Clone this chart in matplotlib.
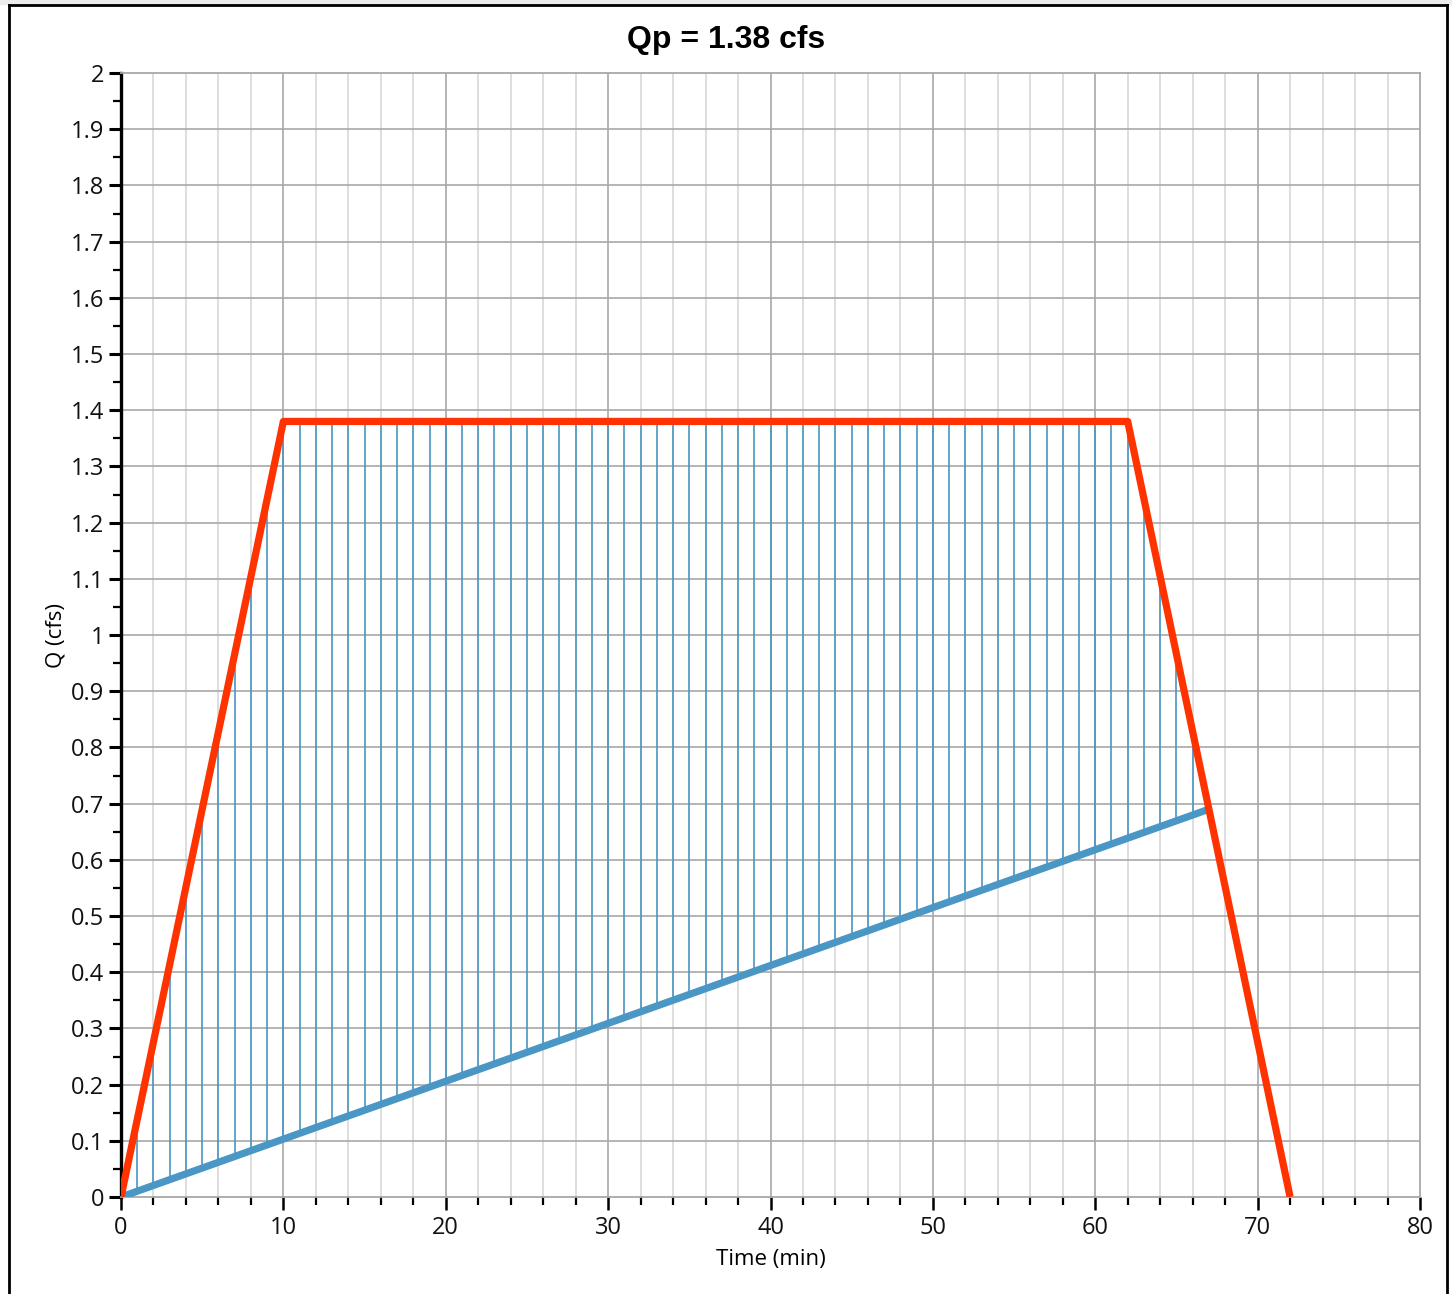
import numpy as np
import matplotlib.pyplot as plt
from matplotlib.lines import Line2D
from matplotlib.patches import Rectangle
from matplotlib.ticker import MultipleLocator, FuncFormatter

# hydrograph (min, cfs)
hydro_t = [0, 10, 62, 72]
hydro_q = [0, 1.38, 1.38, 0]

# baseflow line under the runoff
base_t = [0, 67]
base_q = [0, 0.69]

# storage hatch drawn at every whole minute
hatch_t = np.arange(1, 67)

title = "Qp = 1.38 cfs"

RED = "#ff3300"
BLUE = "#4a96c4"
GRID_DARK = "#a8a8a8"
GRID_LIGHT = "#d4d4d4"

W, H = 1452, 1294
fig = plt.figure(figsize=(W / 100, H / 100), dpi=100)
ax = fig.add_axes([121 / W, 1 - 1197 / H, (1420 - 121) / W, (1197 - 73) / H])

ax.set_xlim(0, 80)
ax.set_ylim(0, 2)

# grid: light every 2 min, darker every 10 min, gray every 0.1 cfs
for x in np.arange(2, 80, 2):
    if x % 10:
        ax.axvline(x, color=GRID_LIGHT, lw=1.1, zorder=0)
for x in np.arange(10, 80, 10):
    ax.axvline(x, color=GRID_DARK, lw=1.2, zorder=0)
for y in np.arange(0.1, 2.0, 0.1):
    ax.axhline(y, color=GRID_DARK, lw=1.2, zorder=0)

# hatch lines between baseflow and hydrograph
lo = np.interp(hatch_t, base_t, base_q)
hi = np.interp(hatch_t, hydro_t, hydro_q)
ax.vlines(hatch_t, lo, hi, color=BLUE, lw=1.2, zorder=2)

ax.plot(base_t, base_q, color=BLUE, lw=5.2, solid_capstyle="butt", zorder=3)
ax.plot(hydro_t, hydro_q, color=RED, lw=5.2, solid_capstyle="butt",
        solid_joinstyle="round", zorder=4)

# axes styling
ax.spines["left"].set_color("black")
ax.spines["left"].set_linewidth(2.4)
for s in ("bottom", "top", "right"):
    ax.spines[s].set_color(GRID_DARK)
    ax.spines[s].set_linewidth(1.3)

ax.xaxis.set_major_locator(MultipleLocator(10))
ax.xaxis.set_minor_locator(MultipleLocator(2))
ax.yaxis.set_major_locator(MultipleLocator(0.1))
ax.yaxis.set_minor_locator(MultipleLocator(0.05))
ax.yaxis.set_major_formatter(FuncFormatter(lambda v, p: "%g" % round(v, 2)))

ax.tick_params(which="major", length=9, width=1.8, color="black",
               labelsize=17, labelcolor="#111111", pad=3)
ax.tick_params(axis="x", which="major", pad=5)
ax.tick_params(which="minor", length=6, width=1.6, color="black")
ax.tick_params(axis="y", which="major", width=2.2)
for lab in ax.get_xticklabels() + ax.get_yticklabels():
    lab.set_family("Open Sans")

ax.set_xlabel("Time (min)", family="Open Sans", fontsize=16, labelpad=6)
ax.set_ylabel("Q (cfs)", family="Open Sans", fontsize=16, labelpad=3)

fig.text(0.5, 1 - 40 / H, title, ha="center", va="center",
         family="Liberation Sans", weight="bold", fontsize=23)

# window frame
fig.patches.append(Rectangle((0, 1 - 4 / H), 1, 4 / H, transform=fig.transFigure,
                             color="#ececec", zorder=0))
frame_kw = dict(color="black", lw=2, transform=fig.transFigure)
fig.add_artist(Line2D([9 / W, 9 / W], [0, 1 - 5 / H], **frame_kw))
fig.add_artist(Line2D([1447 / W, 1447 / W], [0, 1 - 5 / H], **frame_kw))
fig.add_artist(Line2D([9 / W, 1447 / W], [1 - 5 / H, 1 - 5 / H], **frame_kw))

fig.savefig("out.png", dpi=100)
